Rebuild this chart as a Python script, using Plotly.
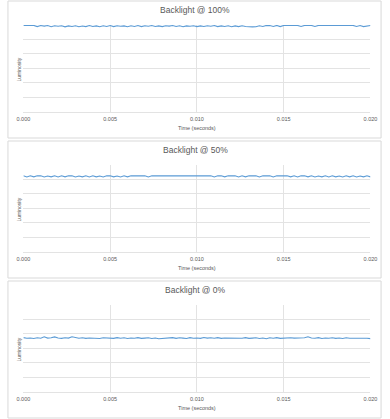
import plotly.graph_objects as go

time_s = [round(i * 0.0002, 4) for i in range(101)]

lum_100 = [5.97,5.97,5.96,5.97,5.89,5.96,5.92,5.96,5.88,5.95,
           5.91,5.95,5.87,5.94,5.90,5.95,5.88,5.93,5.89,5.96,
           5.90,5.94,5.88,5.95,5.90,5.96,5.89,5.95,5.91,5.94,
           5.88,5.95,5.90,5.96,5.89,5.95,5.91,5.96,5.90,5.94,
           5.89,5.95,5.92,5.96,5.90,5.95,5.88,5.94,5.91,5.95,
           5.89,5.94,5.90,5.95,5.91,5.96,5.89,5.94,5.90,5.95,
           5.88,5.94,5.89,5.95,5.90,5.87,5.87,5.88,5.95,5.90,
           5.97,5.96,5.90,5.97,5.89,5.97,5.97,5.97,5.97,5.97,
           5.90,5.97,5.97,5.97,5.90,5.97,5.97,5.97,5.97,5.97,
           5.97,5.97,5.97,5.97,5.97,5.97,5.90,5.96,5.89,5.95,5.96]

lum_50 = [5.25,5.17,5.25,5.18,5.25,5.25,5.17,5.24,5.18,5.25,
          5.17,5.25,5.18,5.25,5.25,5.17,5.24,5.18,5.25,5.17,
          5.25,5.18,5.24,5.17,5.25,5.25,5.18,5.24,5.17,5.25,
          5.18,5.25,5.25,5.25,5.25,5.25,5.17,5.25,5.25,5.25,
          5.25,5.25,5.25,5.25,5.25,5.25,5.25,5.25,5.25,5.25,
          5.25,5.25,5.25,5.25,5.25,5.17,5.25,5.25,5.18,5.25,
          5.25,5.25,5.17,5.25,5.18,5.25,5.25,5.25,5.17,5.25,
          5.25,5.25,5.17,5.25,5.25,5.25,5.25,5.18,5.25,5.17,
          5.25,5.25,5.18,5.25,5.17,5.24,5.18,5.25,5.17,5.25,
          5.18,5.24,5.17,5.25,5.18,5.25,5.17,5.24,5.18,5.25,5.18]

lum_0 = [3.74,3.70,3.72,3.68,3.73,3.70,3.80,3.71,3.73,3.79,
         3.72,3.69,3.73,3.71,3.80,3.74,3.70,3.73,3.69,3.72,
         3.71,3.74,3.68,3.73,3.70,3.72,3.69,3.74,3.70,3.73,
         3.68,3.72,3.70,3.74,3.69,3.71,3.73,3.68,3.72,3.66,
         3.67,3.72,3.70,3.74,3.69,3.73,3.71,3.68,3.74,3.70,
         3.72,3.69,3.75,3.71,3.73,3.70,3.74,3.69,3.72,3.71,
         3.73,3.68,3.72,3.70,3.74,3.69,3.71,3.73,3.68,3.72,
         3.67,3.73,3.70,3.74,3.69,3.72,3.70,3.73,3.71,3.72,
         3.69,3.73,3.80,3.72,3.70,3.74,3.68,3.72,3.70,3.73,
         3.69,3.72,3.68,3.73,3.70,3.71,3.68,3.73,3.69,3.70,3.67]

titles = ["Backlight @ 100%", "Backlight @ 50%", "Backlight @ 0%"]
series = [lum_100, lum_50, lum_0]
x_ticks = [0.000, 0.005, 0.010, 0.015, 0.020]
x_tick_text = ["0.000", "0.005", "0.010", "0.015", "0.020"]

W, H = 390, 419
FONT = "Liberation Sans"
GRID = "#E3E3E3"
TXT = "#595959"

fig = go.Figure()
layout = dict(width=W, height=H, margin=dict(l=0, r=0, t=0, b=0),
              paper_bgcolor="white", plot_bgcolor="white", showlegend=False,
              font=dict(family=FONT, color=TXT))
shapes, annotations = [], []

def py(px):
    return 1 - px / H

for k in range(3):
    off = 140 * k
    top, bot = 25 + off, 111.7 + off
    sfx = "" if k == 0 else str(k + 1)
    fig.add_trace(go.Scatter(x=time_s, y=series[k], mode="lines",
                             line=dict(color="#5B9BD5", width=1.1),
                             xaxis="x" + sfx, yaxis="y" + sfx))
    layout["xaxis" + sfx] = dict(domain=[17 / W, 377 / W], range=[0, 0.02],
                                 anchor="y" + sfx, tickvals=x_ticks, ticktext=x_tick_text,
                                 showgrid=True, gridcolor=GRID, gridwidth=1,
                                 showline=True, linecolor=GRID, linewidth=1,
                                 zeroline=False, ticks="", tickfont=dict(size=5.5, color=TXT),
                                 ticklabelstandoff=2)
    layout["yaxis" + sfx] = dict(domain=[py(bot), py(top)], range=[0, 6], dtick=1,
                                 anchor="x" + sfx, showticklabels=False,
                                 showgrid=True, gridcolor=GRID, gridwidth=1,
                                 showline=False, zeroline=False, ticks="")
    shapes.append(dict(type="rect", xref="paper", yref="paper",
                       x0=1 / W, x1=388 / W, y0=py(138 + off), y1=py(1 + off),
                       line=dict(color="#D9D9D9", width=1), fillcolor="rgba(0,0,0,0)"))
    annotations.append(dict(text=titles[k], xref="paper", yref="paper",
                            x=195 / W, y=py(10 + off), showarrow=False,
                            xanchor="center", yanchor="middle",
                            font=dict(size=8.5, color=TXT, family=FONT)))
    annotations.append(dict(text="Time (seconds)", xref="paper", yref="paper",
                            x=197 / W, y=py(128 + off), showarrow=False,
                            xanchor="center", yanchor="middle",
                            font=dict(size=5.5, color=TXT, family=FONT)))
    annotations.append(dict(text="Luminosity", xref="paper", yref="paper",
                            x=12 / W, y=py(70 + off), showarrow=False, textangle=-90,
                            xanchor="center", yanchor="middle",
                            font=dict(size=5, color=TXT, family=FONT)))

layout["shapes"] = shapes
layout["annotations"] = annotations
fig.update_layout(**layout)
fig.write_html("out.html", config={"displayModeBar": False},
               post_script="document.body.style.margin='0';document.body.style.overflow='hidden';")
